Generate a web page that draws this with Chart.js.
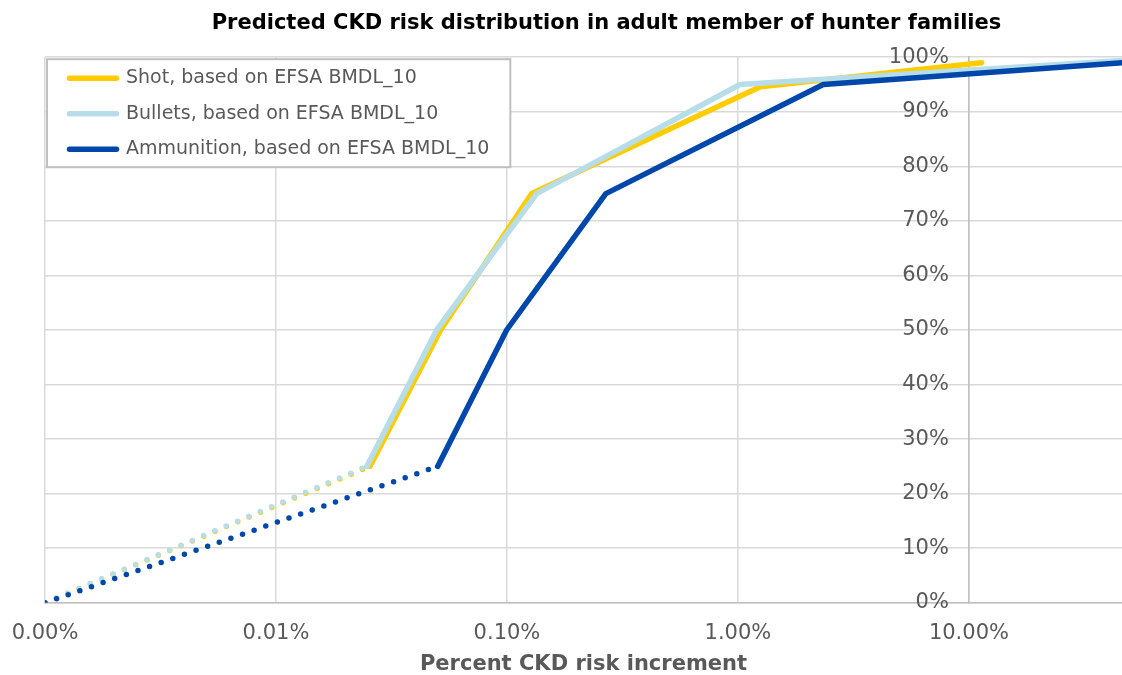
<!DOCTYPE html>
<html>
<head>
<meta charset="utf-8">
<title>Predicted CKD risk distribution</title>
<script src="https://cdn.jsdelivr.net/npm/chart.js@4.4.0/dist/chart.umd.min.js"></script>
<style>
  html, body { margin: 0; padding: 0; background: #fff; }
  #wrap { width: 1122px; height: 675px; }
</style>
</head>
<body>
<div id="wrap"><canvas id="chart" width="1122" height="675"></canvas></div>
<script>
// series labels
const seriesNames = [
  'Shot, based on EFSA BMDL_10',
  'Bullets, based on EFSA BMDL_10',
  'Ammunition, based on EFSA BMDL_10'
];
// x = percent CKD risk increment, y = cumulative share of adults (%)
const shotX = [0.001, 0.0255, 0.0516, 0.128, 1.25, 11.35];
const shotY = [0, 25, 50, 75, 94.6, 99];
const bulletsX = [0.001, 0.0247, 0.0496, 0.1345, 1.02, 47];
const bulletsY = [0, 25, 50, 75, 95, 99.4];
const ammoX = [0.001, 0.0501, 0.0997, 0.268, 2.34, 47];
const ammoY = [0, 25, 50, 75, 95, 99];
// axis ticks
const xTicks = [0.001, 0.01, 0.1, 1, 10];
const yTicks = [0, 10, 20, 30, 40, 50, 60, 70, 80, 90, 100];

const colors = ['#FFCC00', '#B7DDE8', '#0047AB'];
const GREY = '#595959';
const FONT = 'DejaVu Sans';

Chart.defaults.font.family = FONT;

function toPoints(xs, ys){ return xs.map((x, i) => ({ x: x, y: ys[i] })); }
// first segment (from origin) is dotted
const dotted = ctx => ctx.p0DataIndex === 0 ? [0, 12.3] : undefined;

function makeSet(i, xs, ys, order){
  return {
    label: seriesNames[i],
    data: toPoints(xs, ys),
    borderColor: colors[i],
    backgroundColor: colors[i],
    borderWidth: 5.5,
    borderCapStyle: 'round',
    borderJoinStyle: 'round',
    pointRadius: 0,
    pointHoverRadius: 0,
    tension: 0,
    order: order,
    segment: { borderDash: dotted }
  };
}

// legend sits inside the plot with a white framed box; title is shifted right a bit
const legendFrame = {
  id: 'legendFrame',
  afterLayout(chart){
    const lg = chart.legend, ca = chart.chartArea;
    lg.left = ca.left + 8;
    lg.top = ca.top - 5;
    lg.right = chart.width;
    lg.bottom = ca.bottom;
    if(chart.titleBlock) chart.titleBlock.left += 46;
  },
  beforeDatasetsDraw(chart){
    const lg = chart.legend;
    const hb = lg.legendHitBoxes;
    if(!hb || !hb.length) return;
    let l = Infinity, t = Infinity, r = -Infinity, b = -Infinity;
    hb.forEach(h => { l = Math.min(l, h.left); t = Math.min(t, h.top); r = Math.max(r, h.left + h.width); b = Math.max(b, h.top + h.height); });
    const x0 = l - 22.5, y0 = t - 9.5, x1 = r + 21, y1 = b + 8.5;
    const ctx = chart.ctx;
    ctx.save();
    ctx.fillStyle = '#fff';
    ctx.strokeStyle = '#BFBFBF';
    ctx.lineWidth = 2;
    ctx.fillRect(x0, y0, x1 - x0, y1 - y0);
    ctx.strokeRect(x0, y0, x1 - x0, y1 - y0);
    ctx.restore();
    lg.draw();
  }
};

const chart = new Chart(document.getElementById('chart'), {
  type: 'line',
  data: {
    datasets: [
      makeSet(0, shotX, shotY, 3),
      makeSet(1, bulletsX, bulletsY, 2),
      makeSet(2, ammoX, ammoY, 1)
    ]
  },
  options: {
    responsive: false,
    devicePixelRatio: 1,
    animation: false,
    layout: { padding: { left: 45, right: 0, top: 0, bottom: 0 } },
    plugins: {
      tooltip: { enabled: false },
      title: {
        display: true,
        text: 'Predicted CKD risk distribution in adult member of hunter families',
        color: '#000',
        font: { family: FONT, size: 21, weight: 'bold' },
        padding: { top: 11, bottom: 21 }
      },
      legend: {
        position: 'chartArea',
        align: 'start',
        labels: {
          usePointStyle: true,
          pointStyle: 'line',
          pointStyleWidth: 47,
          padding: 16.5,
          color: GREY,
          font: { family: FONT, size: 19 },
          sort: (a, b) => a.datasetIndex - b.datasetIndex,
          generateLabels(c){
            const items = Chart.defaults.plugins.legend.labels.generateLabels(c);
            items.forEach(it => { it.lineCap = 'round'; it.lineDash = []; });
            return items;
          }
        }
      }
    },
    scales: {
      x: {
        type: 'logarithmic',
        min: 0.001,
        max: 46,
        afterBuildTicks: axis => { axis.ticks = xTicks.map(v => ({ value: v })); },
        ticks: {
          color: GREY,
          font: { size: 21, lineHeight: 2.2 },
          padding: 8,
          autoSkip: false,
          maxRotation: 0,
          callback: v => Number(v).toFixed(2) + '%'
        },
        grid: { color: '#D9D9D9', lineWidth: 1.5, drawTicks: false },
        border: { color: '#BFBFBF', width: 1.5 },
        title: {
          display: true,
          text: 'Percent CKD risk increment',
          color: GREY,
          font: { size: 21, weight: 'bold', lineHeight: 1 },
          padding: { top: -11, bottom: 0 }
        }
      },
      y: {
        type: 'linear',
        min: 0,
        max: 100,
        position: { x: 10 },
        afterBuildTicks: axis => { axis.ticks = yTicks.map(v => ({ value: v })); },
        ticks: {
          color: GREY,
          font: { size: 21 },
          callback: v => v + '%   '
        },
        grid: { color: '#D9D9D9', lineWidth: 1.5, drawTicks: false },
        border: { color: '#BFBFBF', width: 1.5 }
      }
    }
  },
  plugins: [legendFrame]
});
</script>
</body>
</html>
